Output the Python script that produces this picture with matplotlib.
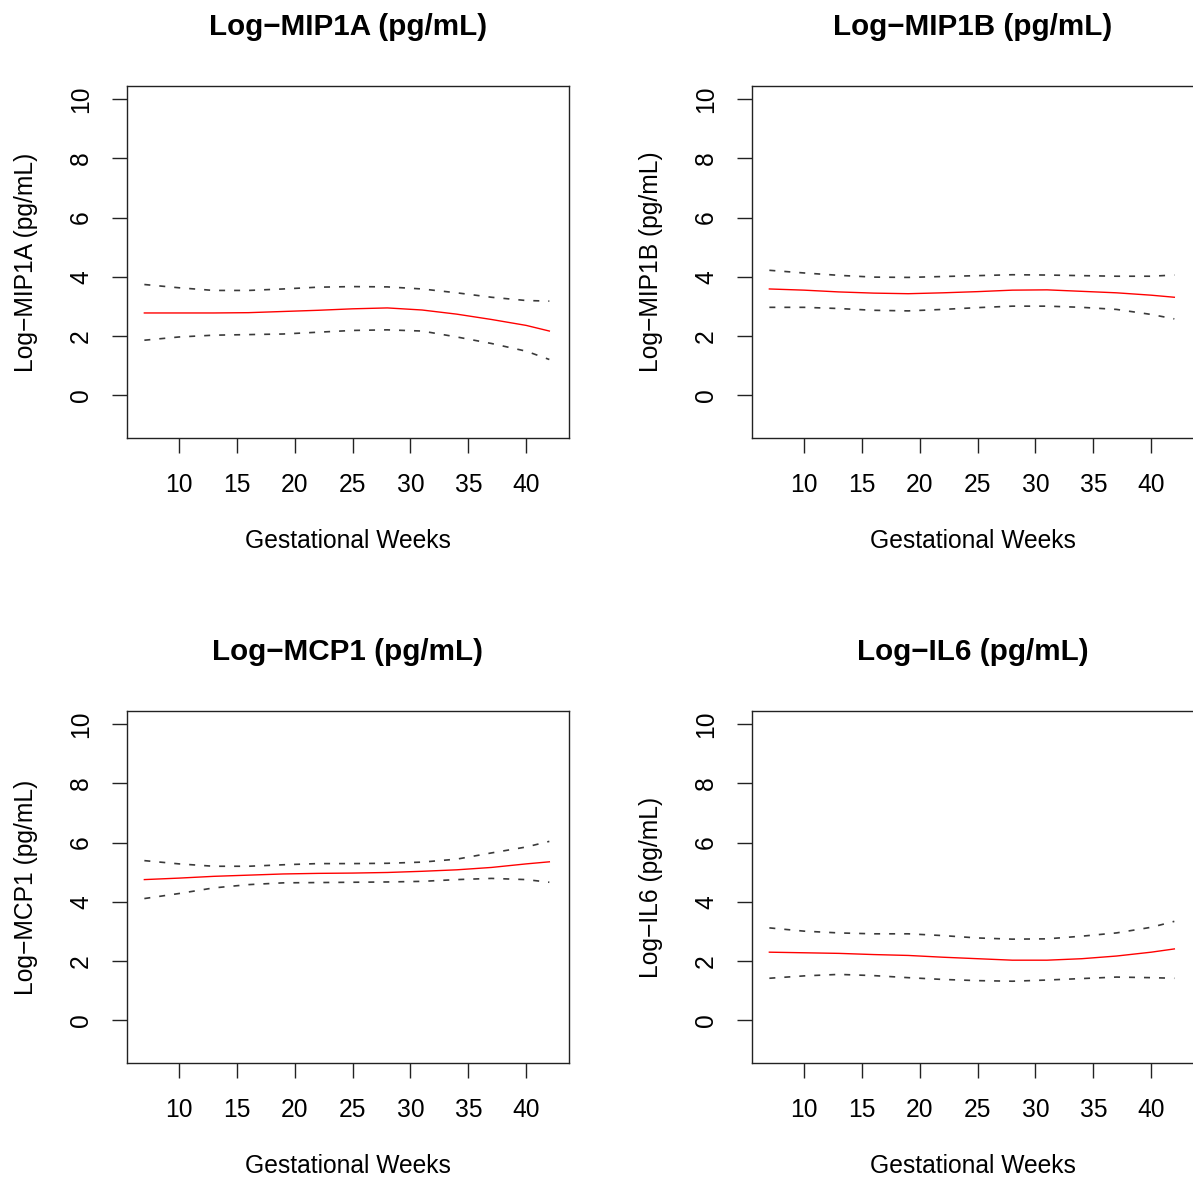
import matplotlib
matplotlib.use("Agg")
import matplotlib.pyplot as plt

plt.rcParams['font.family'] = ['Liberation Sans', 'DejaVu Sans']

# gestational weeks where the curves were read
weeks = [7, 10, 13, 16, 19, 22, 25, 28, 31, 34, 37, 40, 42]

titles = ["Log\u2212MIP1A (pg/mL)", "Log\u2212MIP1B (pg/mL)",
          "Log\u2212MCP1 (pg/mL)", "Log\u2212IL6 (pg/mL)"]

# fitted means
mip1a_fit = [2.78, 2.78, 2.78, 2.79, 2.83, 2.87, 2.92, 2.95, 2.88, 2.74, 2.56, 2.36, 2.17]
mip1b_fit = [3.59, 3.55, 3.49, 3.45, 3.43, 3.46, 3.50, 3.55, 3.56, 3.51, 3.46, 3.38, 3.31]
mcp1_fit = [4.75, 4.80, 4.86, 4.90, 4.94, 4.96, 4.97, 4.99, 5.03, 5.08, 5.16, 5.28, 5.35]
il6_fit = [2.30, 2.28, 2.26, 2.22, 2.19, 2.13, 2.08, 2.03, 2.03, 2.08, 2.17, 2.30, 2.41]

# upper bands
mip1a_up = [3.74, 3.63, 3.54, 3.54, 3.59, 3.65, 3.67, 3.66, 3.59, 3.46, 3.31, 3.20, 3.18]
mip1b_up = [4.22, 4.13, 4.05, 3.99, 3.98, 4.01, 4.04, 4.07, 4.06, 4.04, 4.02, 4.02, 4.06]
mcp1_up = [5.39, 5.28, 5.20, 5.20, 5.25, 5.29, 5.29, 5.30, 5.34, 5.44, 5.65, 5.85, 6.04]
il6_up = [3.12, 3.01, 2.95, 2.92, 2.92, 2.86, 2.78, 2.74, 2.75, 2.84, 2.95, 3.14, 3.34]

# lower bands
mip1a_lo = [1.86, 1.97, 2.03, 2.05, 2.07, 2.13, 2.19, 2.21, 2.17, 1.97, 1.75, 1.49, 1.21]
mip1b_lo = [2.97, 2.97, 2.93, 2.87, 2.85, 2.90, 2.96, 3.01, 3.01, 2.97, 2.90, 2.73, 2.58]
mcp1_lo = [4.11, 4.28, 4.47, 4.58, 4.64, 4.65, 4.66, 4.67, 4.69, 4.75, 4.79, 4.75, 4.66]
il6_lo = [1.42, 1.50, 1.55, 1.51, 1.44, 1.38, 1.34, 1.32, 1.36, 1.41, 1.46, 1.44, 1.42]

fits = [mip1a_fit, mip1b_fit, mcp1_fit, il6_fit]
ups = [mip1a_up, mip1b_up, mcp1_up, il6_up]
los = [mip1a_lo, mip1b_lo, mcp1_lo, il6_lo]

xticks = [10, 15, 20, 25, 30, 35, 40]
yticks = [0, 2, 4, 6, 8, 10]

W, H = 1193, 1184
fig = plt.figure(figsize=(W / 100, H / 100), dpi=100)

lefts = [127, 752, 127, 752]
tops = [86, 86, 711, 711]
aw, ah = 442, 352

fs = 17.7
dash = (0, (3.6, 5.4))

for i in range(4):
    ax = fig.add_axes([lefts[i] / W, 1 - (tops[i] + ah) / H, aw / W, ah / H])
    ax.plot(weeks, fits[i], color='red', lw=1.0)
    ax.plot(weeks, ups[i], color='#3a3a3a', lw=1.2, linestyle=dash)
    ax.plot(weeks, los[i], color='#3a3a3a', lw=1.2, linestyle=dash)
    ax.set_xlim(5.5, 43.7)
    ax.set_ylim(-1.44, 10.44)
    ax.set_xticks(xticks)
    ax.set_yticks(yticks)
    ax.tick_params(axis='both', labelsize=fs, length=10.5, width=1.0, color='#222222')
    ax.tick_params(axis='x', pad=15)
    ax.tick_params(axis='y', labelrotation=90, pad=14)
    for lab in ax.get_yticklabels():
        lab.set_verticalalignment('center')
    for sp in ax.spines.values():
        sp.set_linewidth(1.0)
        sp.set_color('#222222')
    ax.text(0.5, 1.1676, titles[i], transform=ax.transAxes, ha='center', va='center',
            fontsize=21.3, fontweight='bold')
    ax.text(0.5, -0.2926, "Gestational Weeks", transform=ax.transAxes, ha='center',
            va='center', fontsize=fs)
    ax.text(-0.2285, 0.5, titles[i], transform=ax.transAxes, ha='center', va='center',
            rotation=90, fontsize=fs)

fig.savefig("out.png", dpi=100)
